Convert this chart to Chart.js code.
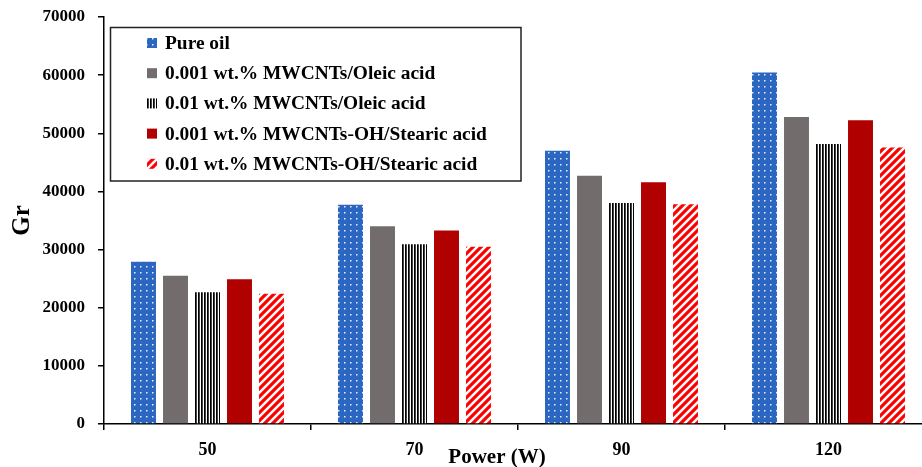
<!DOCTYPE html>
<html>
<head>
<meta charset="utf-8">
<script src="https://cdn.jsdelivr.net/npm/chart.js@4"></script>
<style>
  body { margin: 0; background: #fff; overflow: hidden; }
  #wrap { width: 940px; height: 467px; }
</style>
</head>
<body>
<div id="wrap"><canvas id="grChart" width="940" height="467"></canvas></div>
<script>
const powerLabels = ['50', '70', '90', '120'];
const pureOil = [27900, 37700, 47000, 60450];
const mwcnt001 = [25500, 34000, 42700, 52800];
const mwcnt01 = [22650, 30900, 38000, 48150];
const mwcntOh001 = [24900, 33300, 41600, 52250];
const mwcntOh01 = [22400, 30500, 37800, 47550];
const seriesNames = [
  'Pure oil',
  '0.001 wt.% MWCNTs/Oleic acid',
  '0.01 wt.% MWCNTs/Oleic acid',
  '0.001 wt.% MWCNTs-OH/Stearic acid',
  '0.01 wt.% MWCNTs-OH/Stearic acid'
];
const yTicks = [0, 10000, 20000, 30000, 40000, 50000, 60000, 70000];

const serif = '"Liberation Serif", "Times New Roman", serif';
const helper = document.createElement('canvas').getContext('2d');

function makePattern(w, h, draw) {
  const tile = document.createElement('canvas');
  tile.width = w;
  tile.height = h;
  draw(tile.getContext('2d'));
  return helper.createPattern(tile, 'repeat');
}

// blue with white dots
const dotsBlue = makePattern(6, 6, c => {
  c.fillStyle = '#2B66C0';
  c.fillRect(0, 0, 6, 6);
  c.fillStyle = 'rgba(255,255,255,0.9)';
  c.fillRect(2, 2, 1.5, 1.5);
});
// black vertical lines
const vStripes = makePattern(3, 3, c => {
  c.fillStyle = '#fff';
  c.fillRect(0, 0, 3, 3);
  c.fillStyle = '#000';
  c.fillRect(0, 0, 1, 3);
  c.fillStyle = '#444';
  c.fillRect(1, 0, 1, 3);
});
// red diagonal stripes
const redDiag = makePattern(8, 8, c => {
  c.fillStyle = '#fff';
  c.fillRect(0, 0, 8, 8);
  c.strokeStyle = '#FF0000';
  c.lineWidth = 3.2;
  c.beginPath();
  c.moveTo(-2, 10); c.lineTo(10, -2);
  c.moveTo(-6, 6); c.lineTo(6, -6);
  c.moveTo(2, 14); c.lineTo(14, 2);
  c.stroke();
});

const fills = [dotsBlue, '#736C6C', vStripes, '#B00000', redDiag];
const values = [pureOil, mwcnt001, mwcnt01, mwcntOh001, mwcntOh01];

// boxed legend in the upper left plus the x axis title
const boxLegend = {
  id: 'boxLegend',
  afterDraw(chart) {
    const ctx = chart.ctx;
    ctx.save();
    ctx.fillStyle = '#fff';
    ctx.fillRect(110.5, 27.5, 410.5, 153.5);
    ctx.strokeStyle = '#222';
    ctx.lineWidth = 1.5;
    ctx.strokeRect(110.5, 27.5, 410.5, 153.5);
    ctx.font = 'bold 19.4px ' + serif;
    ctx.textBaseline = 'middle';
    chart.data.datasets.forEach((ds, i) => {
      const y = 43 + i * 30.2;
      ctx.fillStyle = ds.backgroundColor;
      ctx.fillRect(147, y - 5, 10, 10);
      ctx.fillStyle = '#000';
      ctx.fillText(ds.label, 165, y + 1);
    });
    ctx.font = 'bold 21px ' + serif;
    ctx.textAlign = 'center';
    ctx.fillText('Power (W)', 497, 458);
    ctx.restore();
  }
};

new Chart(document.getElementById('grChart'), {
  type: 'bar',
  data: {
    labels: powerLabels,
    datasets: seriesNames.map((name, i) => ({
      label: name,
      data: values[i],
      backgroundColor: fills[i],
      borderWidth: 0
    }))
  },
  options: {
    responsive: false,
    animation: false,
    categoryPercentage: 0.773,
    barPercentage: 0.78,
    layout: { padding: { top: 17, right: 8, left: 0, bottom: 0 } },
    plugins: { legend: { display: false }, tooltip: { enabled: false } },
    scales: {
      x: {
        afterFit: s => { s.height = 43; },
        grid: { drawOnChartArea: false, color: '#000', tickLength: 6, lineWidth: 1.5 },
        border: { color: '#000', width: 1.5 },
        ticks: { color: '#000', padding: 10, font: { family: serif, size: 18, weight: 'bold' } }
      },
      y: {
        min: 0,
        max: 70000,
        afterFit: s => { s.width = 104; s.paddingTop = 0; s.paddingBottom = 0; },
        afterBuildTicks: s => { s.ticks = yTicks.map(v => ({ value: v })); },
        grid: { drawOnChartArea: false, color: '#000', tickLength: 6, lineWidth: 1.5 },
        border: { color: '#000', width: 1.5 },
        ticks: { color: '#000', padding: 13, callback: v => String(v), font: { family: serif, size: 17, weight: 'bold' } },
        title: { display: true, text: 'Gr', color: '#000', padding: { top: 8, bottom: 0 }, font: { family: serif, size: 25, weight: 'bold' } }
      }
    }
  },
  plugins: [boxLegend]
});
</script>
</body>
</html>
